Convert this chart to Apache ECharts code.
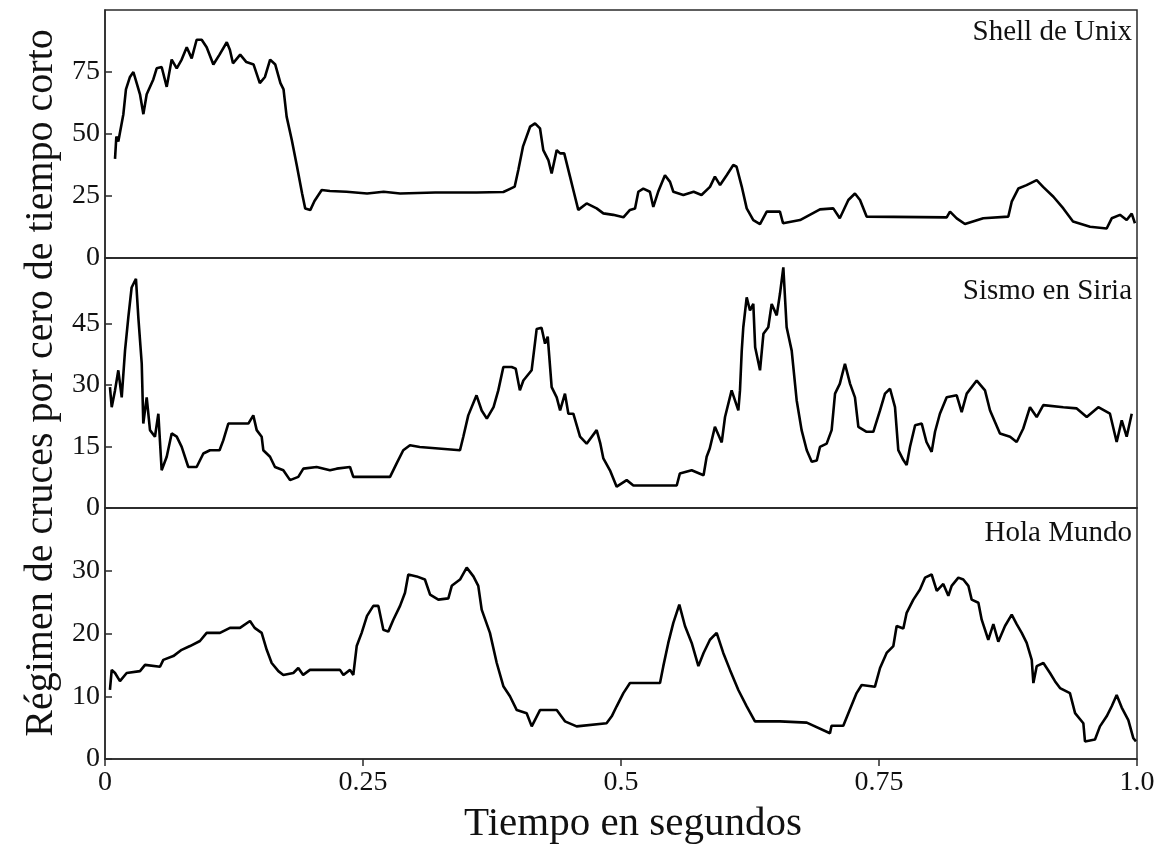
<!DOCTYPE html>
<html>
<head>
<meta charset="utf-8">
<script src="https://cdn.jsdelivr.net/npm/echarts@6/dist/echarts.min.js"></script>
<style>
html,body{margin:0;padding:0;background:#fff;}
#chart{width:1171px;height:855px;}
</style>
</head>
<body>
<div id="chart"></div>
<script>
// ---------- DATA ----------
const panelNames = ['Shell de Unix', 'Sismo en Siria', 'Hola Mundo'];
const xTickValues = [0, 0.25, 0.5, 0.75, 1];
const xTickLabels = ['0', '0.25', '0.5', '0.75', '1.0'];
const shellTicks = [0, 25, 50, 75];
const sismoTicks = [0, 15, 30, 45];
const holaTicks = [0, 10, 20, 30];

const shellT = [.0097,.011,.0129,.0178,.0203,.0242,.0275,.0307,.0339,.0372,.0404,.0468,.0501,.0549,.0598,.0646,.0695,.0743,.0792,.084,.0888,.0937,.0985,.105,.111,.118,.121,.124,.131,.137,.144,.150,.155,.160,.165,.170,.173,.176,.181,.186,.191,.194,.199,.203,.210,.218,.234,.254,.270,.286,.32,.36,.386,.392,.397,.4005,.405,.412,.4167,.4215,.4247,.4296,.4328,.4377,.441,.445,.4506,.4538,.4586,.4667,.4764,.4829,.4925,.5023,.5087,.5136,.5168,.5216,.528,.5313,.536,.5426,.5475,.5507,.5604,.5704,.578,.5862,.591,.596,.6024,.6088,.612,.617,.6218,.6282,.6347,.6412,.654,.657,.6735,.6928,.7057,.712,.7203,.7267,.7316,.738,.8156,.8188,.8253,.8333,.851,.8753,.8786,.885,.893,.9028,.909,.919,.9286,.938,.9545,.9706,.9755,.9835,.99,.9949,.998];
const shellV = [40,49,47,58,68,73,75,70.5,66,58,66,72,76.5,77,69,80,76.5,80,85,80.5,88,88,85,78,82,87,84,78.5,82,79,78,70.5,73,80,78,70.5,68,57,47.6,37,26,20,19.4,23,27.4,27,26.7,26,26.7,26,26.4,26.4,26.6,27.8,28.8,35.5,44.9,53,54.3,52.3,43.5,39.5,34.1,43.5,42.2,42.2,32.8,27.4,19.4,22,20,18,17.4,16.4,19.4,20,26.7,28,26.7,20.6,26.7,33.4,30.7,26.7,25.4,26.7,25.4,28.7,32.8,29.4,33.4,37.5,36.8,28.8,20,15.3,13.7,18.7,18.7,14,15.3,19.6,20,16,23.4,26,23.4,16.7,16.4,18.7,16,13.7,16,16.7,22.7,28,29.4,31.4,28.7,24.7,20,14.7,12.6,11.9,16,17.4,15.3,17.9,14];

const sismoT = [.0048,.0065,.0097,.0129,.0162,.0194,.0226,.0258,.03,.0323,.0356,.0371,.0404,.0436,.0484,.0517,.0549,.0598,.0646,.0695,.0743,.0807,.0888,.0953,.1017,.111,.1146,.1195,.1308,.1389,.1437,.147,.1518,.1534,.1599,.1647,.1728,.1793,.1873,.1922,.2051,.218,.2245,.2374,.2406,.2762,.2826,.289,.2955,.305,.344,.3472,.352,.36,.365,.37,.3765,.3811,.386,.394,.398,.402,.4054,.4134,.4183,.423,.4264,.429,.4328,.4377,.441,.4457,.449,.4538,.4603,.4667,.4764,.48,.4829,.4893,.4958,.5055,.512,.554,.557,.5685,.58,.583,.586,.591,.5976,.6008,.6072,.6137,.6153,.617,.6185,.6218,.625,.6282,.63,.6347,.638,.6427,.646,.6509,.654,.6573,.6605,.6654,.6702,.675,.68,.6848,.6897,.6928,.6993,.7041,.7074,.712,.717,.722,.7267,.73,.738,.7445,.751,.7558,.7607,.7655,.7687,.7736,.7768,.78,.785,.7914,.796,.801,.8043,.809,.8156,.8253,.8301,.835,.8447,.8527,.8576,.8672,.877,.8834,.8898,.8963,.9028,.9092,.9286,.9416,.9513,.9625,.9738,.9803,.9852,.99,.9949];
const sismoV = [29.5,24.6,28.7,33.6,27,38.4,46.5,53.8,55.9,46.5,35.2,20.6,27,19,17.4,23,9.2,12.5,18.2,17.4,14.9,10,10,13.3,14.1,14.1,16.5,20.6,20.6,20.6,22.6,19,17.4,14.1,12.5,10,9.2,6.8,7.6,9.6,10,9.2,9.6,10,7.6,7.6,10.9,14.1,15.3,14.9,14.1,17.4,22.6,27.5,23.8,21.8,24.6,28.7,34.4,34.4,34,28.7,31.1,33.6,43.7,44,40.1,41.8,29.5,27,23.8,27.9,23,23,17.4,15.7,19,15.7,12.1,9.2,5.2,6.8,5.5,5.5,8.4,9.2,8,12.5,14.5,19.8,16,22.2,28.7,23.8,28.7,38.4,44.1,51.4,48.2,49.8,39.2,33.6,42.5,44.1,49.8,47,52.2,58.7,44.1,38.4,26.3,19,14.1,11.3,11.6,14.9,15.7,19,27.9,30.3,35.2,30.3,27,19.8,18.6,18.6,23.8,27.9,29.1,24.6,14.1,11.7,10.5,14.9,20.2,20.6,16.1,13.7,18.6,23,27,27.5,23.4,27.9,31.1,28.7,23.8,18.2,17.4,16.1,19.4,24.6,22.2,25.1,24.6,24.3,22.2,24.6,23,16.1,21.4,17.4,23];

const holaT = [.0048,.0065,.0097,.0145,.021,.0339,.0388,.0533,.0565,.0662,.0743,.0824,.092,.0985,.1114,.1211,.1308,.1405,.145,.1518,.1567,.1615,.168,.1728,.1825,.1873,.192,.1986,.2277,.231,.2374,.2406,.2439,.2487,.2539,.26,.2649,.2697,.2745,.2794,.2859,.2907,.2939,.302,.31,.315,.323,.3327,.336,.344,.3505,.357,.3617,.365,.373,.3796,.386,.3924,.399,.4086,.4135,.4215,.4377,.4457,.457,.486,.491,.4958,.5023,.5087,.5378,.541,.5458,.5507,.5565,.562,.5685,.575,.58,.5862,.5927,.5991,.6056,.6137,.6218,.6298,.654,.68,.7025,.704,.7154,.7203,.7283,.7332,.746,.751,.7574,.7639,.7671,.7736,.7768,.7833,.7897,.7946,.801,.806,.8123,.8172,.8204,.8269,.8317,.8366,.8398,.8463,.8495,.8559,.8608,.8656,.8721,.8786,.8834,.8883,.8931,.898,.8996,.9028,.9093,.9157,.9205,.9254,.935,.94,.948,.9496,.9593,.9641,.9706,.9755,.9803,.9852,.9916,.9965,.999];
const holaV = [11,14.2,13.7,12.4,13.7,14,15,14.7,15.8,16.4,17.4,18,18.8,20.1,20.1,20.9,20.9,22,20.9,20.1,17.4,15.3,14,13.4,13.7,14.5,13.4,14.2,14.2,13.4,14.2,13.4,18,20.1,22.8,24.4,24.4,20.6,20.3,22.2,24.4,26.5,29.4,29.1,28.6,26.2,25.4,25.6,27.6,28.6,30.5,29.1,27.6,23.8,20.1,15.3,11.6,10,7.8,7.3,5.2,7.8,7.8,6,5.2,5.7,6.8,8.4,10.5,12.1,12.1,14.8,18.5,21.7,24.6,21.2,18.5,14.8,16.9,19,20.1,16.9,14.2,11,8.4,6,6,5.8,4.1,5.3,5.3,7.3,10.5,11.8,11.5,14.5,16.9,18,21.2,20.8,23.3,25.4,27,28.9,29.4,26.8,27.9,26,27.6,28.9,28.6,27.6,25.4,24.9,22.2,19,21.5,18.7,21.2,23,21.5,20.1,18.5,15.8,12.1,14.8,15.3,13.7,12.4,11.3,10.5,7.3,5.7,2.8,3.1,5.2,6.8,8.4,10.2,8.2,6.2,3.3,2.8];

// ---------- CHART ----------
const FONT = '"Liberation Serif", "DejaVu Serif", "Times New Roman", serif';
const AX = '#2a2a2a';
const zip = (t, v) => t.map((x, i) => [x, v[i]]);
const seriesData = [zip(shellT, shellV), zip(sismoT, sismoV), zip(holaT, holaV)];
const yMax = [100, 61, 40];
const yInt = [25, 15, 10];
const yTicks = [shellTicks, sismoTicks, holaTicks];
const gridTops = [10, 258, 508];
const gridHeights = [248, 250, 251];
const labelTops = [18, 277, 519];

const chart = echarts.init(document.getElementById('chart'), null, {renderer: 'canvas'});

const option = {
  animation: false,
  backgroundColor: '#fff',
  title: panelNames.map((n, i) => ({
    text: n, right: 39, top: labelTops[i], padding: 0,
    textStyle: {fontFamily: FONT, fontSize: 29, fontWeight: 'normal', color: '#111'}
  })),
  grid: gridTops.map((t, i) => ({
    left: 105, width: 1032, top: t, height: gridHeights[i],
    show: true, borderColor: AX, borderWidth: 1.5, backgroundColor: 'transparent'
  })),
  xAxis: [0, 1, 2].map(i => ({
    gridIndex: i, type: 'value', min: 0, max: 1, interval: 0.25,
    axisLine: {show: true, lineStyle: {color: AX, width: 1.5}},
    axisTick: {show: i === 2, inside: false, length: 7, lineStyle: {color: AX, width: 1.5}},
    axisLabel: {
      show: i === 2, margin: 10, color: '#111', fontFamily: FONT, fontSize: 28,
      formatter: v => { const k = xTickValues.indexOf(v); return k >= 0 ? xTickLabels[k] : ''; }
    },
    splitLine: {show: false},
    name: i === 2 ? 'Tiempo en segundos' : '',
    nameLocation: 'middle', nameGap: 45,
    nameTextStyle: {fontFamily: FONT, fontSize: 41, color: '#111', padding: [0, 0, 0, 24]}
  })),
  yAxis: [0, 1, 2].map(i => ({
    gridIndex: i, type: 'value', min: 0, max: yMax[i], interval: yInt[i],
    axisLine: {show: true, lineStyle: {color: AX, width: 1.5}},
    axisTick: {show: true, inside: true, length: 7, customValues: yTicks[i], lineStyle: {color: AX, width: 1.5}},
    axisLabel: {
      show: true, margin: 5, color: '#111', fontFamily: FONT, fontSize: 28,
      customValues: yTicks[i],
      formatter: v => (yTicks[i].indexOf(v) >= 0 ? String(v) : '')
    },
    splitLine: {show: false},
    name: i === 1 ? 'Régimen de cruces por cero de tiempo corto' : '',
    nameLocation: 'middle', nameGap: 40,
    nameTextStyle: {fontFamily: FONT, fontSize: 40, color: '#111'}
  })),
  series: seriesData.map((d, i) => ({
    type: 'line', xAxisIndex: i, yAxisIndex: i, data: d,
    showSymbol: false, symbol: 'none',
    lineStyle: {color: '#000', width: 2.6},
    clip: true
  }))
};
chart.setOption(option);
</script>
</body>
</html>
